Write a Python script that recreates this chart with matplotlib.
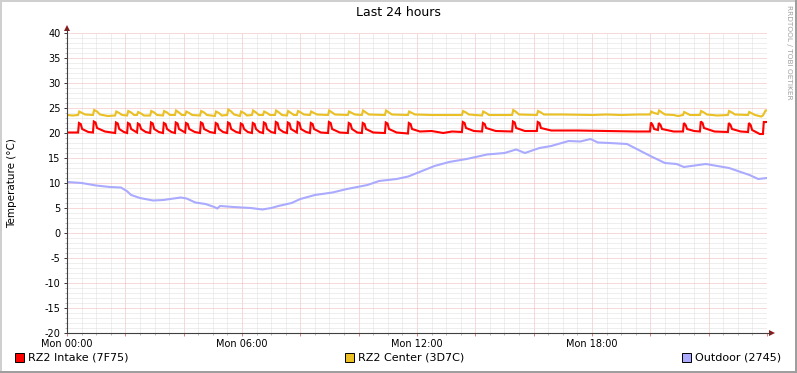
import matplotlib
matplotlib.use("Agg")
import matplotlib.pyplot as plt
from matplotlib.patches import Rectangle, Polygon
from matplotlib.lines import Line2D
from matplotlib.ticker import MultipleLocator

plt.rcParams["axes.unicode_minus"] = False

# Hours since Mon 00:00 and temperatures (deg C)
intake_h = [0.0, 0.38, 0.41, 0.47, 0.52, 0.73,
            0.89, 0.92, 0.98, 1.03, 1.30,
            1.65, 1.68, 1.74, 1.79, 1.95,
            2.06, 2.09, 2.15, 2.20,
            2.40, 2.43, 2.49, 2.54, 2.70,
            2.85, 2.88, 2.94, 2.99, 3.15,
            3.29, 3.32, 3.38, 3.43, 3.58,
            3.70, 3.73, 3.79, 3.84,
            4.05, 4.08, 4.14, 4.19, 4.38,
            4.56, 4.59, 4.65, 4.70, 4.90,
            5.07, 5.10, 5.16, 5.21, 5.35,
            5.49, 5.52, 5.58, 5.63, 5.80,
            5.93, 5.96, 6.02, 6.07, 6.20,
            6.34, 6.37, 6.43, 6.48, 6.60,
            6.72, 6.75, 6.81, 6.86, 7.00,
            7.13, 7.16, 7.22, 7.27, 7.42,
            7.54, 7.57, 7.63, 7.68,
            7.88, 7.91, 7.97, 8.02, 8.20,
            8.33, 8.36, 8.42, 8.47, 8.70,
            8.95, 8.98, 9.04, 9.09, 9.35,
            9.63, 9.66, 9.72, 9.77, 9.95,
            10.11, 10.14, 10.20, 10.25, 10.50,
            10.90, 10.93, 10.99, 11.04, 11.30,
            11.69, 11.72, 11.78, 11.83, 12.10, 12.50, 12.90, 13.20,
            13.54, 13.57, 13.63, 13.68, 13.95,
            14.23, 14.26, 14.32, 14.37, 14.70,
            15.26, 15.29, 15.35, 15.40, 15.70,
            16.11, 16.14, 16.20, 16.25, 16.60, 17.50, 18.50, 19.50,
            19.99, 20.02, 20.08, 20.13,
            20.26, 20.29, 20.35, 20.40, 20.80,
            21.12, 21.15, 21.21, 21.26, 21.50,
            21.70, 21.73, 21.79, 21.84, 22.20,
            22.66, 22.69, 22.75, 22.80, 23.10,
            23.35, 23.38, 23.44, 23.49, 23.75,
            23.86, 23.89, 24.0]
intake_t = [20.1, 20.1, 22.0, 21.8, 20.8, 20.2,
            20.1, 22.3, 22.1, 21.0, 20.3,
            20.0, 22.1, 21.9, 20.8, 20.2,
            20.0, 22.0, 21.8, 20.8,
            20.1, 21.9, 21.7, 20.8, 20.2,
            20.0, 22.1, 21.9, 20.8, 20.2,
            20.0, 22.0, 21.8, 20.8, 20.2,
            20.0, 22.1, 21.9, 20.8,
            20.1, 22.0, 21.8, 20.8, 20.2,
            20.0, 22.1, 21.9, 20.8, 20.2,
            20.0, 22.0, 21.8, 20.8, 20.2,
            20.0, 22.1, 21.9, 20.8, 20.2,
            20.0, 21.9, 21.7, 20.8, 20.2,
            20.0, 22.0, 21.8, 20.8, 20.2,
            20.0, 22.1, 21.9, 20.8, 20.2,
            20.0, 22.2, 22.0, 20.8, 20.2,
            20.0, 22.1, 21.9, 20.8,
            20.1, 22.2, 22.0, 20.8, 20.2,
            20.0, 22.0, 21.8, 20.8, 20.1,
            20.0, 22.2, 22.0, 20.8, 20.1,
            20.0, 22.0, 21.8, 20.8, 20.1,
            20.0, 22.0, 21.8, 20.8, 20.1,
            20.0, 22.1, 21.9, 20.8, 20.1,
            19.9, 22.0, 21.8, 20.8, 20.3, 20.4, 20.0, 20.3,
            20.2, 22.2, 22.0, 21.0, 20.4,
            20.3, 22.0, 21.8, 21.0, 20.4,
            20.3, 22.3, 22.1, 21.0, 20.4,
            20.4, 22.2, 22.0, 21.0, 20.5, 20.5, 20.4, 20.3,
            20.3, 22.1, 21.6, 20.8,
            20.6, 22.0, 21.6, 20.8, 20.3,
            20.3, 22.0, 21.6, 20.8, 20.4,
            20.3, 22.3, 22.0, 21.0, 20.3,
            20.2, 22.0, 21.6, 20.8, 20.3,
            20.2, 22.0, 21.6, 20.6, 19.8,
            19.8, 22.2, 22.2]

center_h = [0.0, 0.20,
            0.38, 0.42, 0.52, 0.62,
            0.89, 0.93, 1.03, 1.13, 1.40,
            1.65, 1.69, 1.79, 1.89,
            2.06, 2.10, 2.20, 2.30,
            2.40, 2.44, 2.54, 2.64,
            2.85, 2.89, 2.99, 3.09,
            3.29, 3.33, 3.43, 3.53,
            3.70, 3.74, 3.84, 3.94,
            4.05, 4.09, 4.19, 4.29,
            4.56, 4.60, 4.70, 4.80,
            5.07, 5.11, 5.21, 5.31,
            5.49, 5.53, 5.63, 5.73,
            5.93, 5.97, 6.07, 6.17,
            6.34, 6.38, 6.48, 6.58,
            6.72, 6.76, 6.86, 6.96,
            7.13, 7.17, 7.27, 7.37,
            7.54, 7.58, 7.68, 7.78,
            7.88, 7.92, 8.02, 8.12,
            8.33, 8.37, 8.47, 8.57,
            8.95, 8.99, 9.09, 9.19,
            9.63, 9.67, 9.77, 9.87,
            10.11, 10.15, 10.25, 10.35,
            10.90, 10.94, 11.04, 11.14,
            11.69, 11.73, 11.83, 11.93, 12.50, 13.00,
            13.54, 13.58, 13.68, 13.78,
            14.23, 14.27, 14.37, 14.47,
            15.26, 15.30, 15.40, 15.50,
            16.11, 16.15, 16.25, 16.35, 17.00, 18.00, 18.50, 19.00, 19.60,
            19.99, 20.03, 20.13,
            20.26, 20.30, 20.40, 20.50, 20.80, 20.95,
            21.12, 21.16, 21.26, 21.36,
            21.70, 21.74, 21.84, 21.94, 22.30,
            22.66, 22.70, 22.80, 22.90,
            23.35, 23.39, 23.49, 23.59, 23.80,
            23.86, 23.95, 24.0]
center_t = [23.6, 23.5,
            23.6, 24.3, 24.0, 23.7,
            23.6, 24.6, 24.3, 23.7, 23.4,
            23.5, 24.3, 24.0, 23.6,
            23.5, 24.4, 24.1, 23.6,
            23.6, 24.2, 23.9, 23.5,
            23.5, 24.4, 24.1, 23.6,
            23.5, 24.4, 24.1, 23.6,
            23.6, 24.5, 24.1, 23.6,
            23.6, 24.3, 24.0, 23.6,
            23.5, 24.4, 24.1, 23.6,
            23.4, 24.3, 24.0, 23.5,
            23.6, 24.7, 24.3, 23.7,
            23.4, 24.3, 24.0, 23.5,
            23.6, 24.5, 24.1, 23.6,
            23.6, 24.3, 24.0, 23.6,
            23.6, 24.5, 24.1, 23.6,
            23.5, 24.4, 24.0, 23.6,
            23.6, 24.4, 24.1, 23.7,
            23.6, 24.3, 24.0, 23.7,
            23.6, 24.5, 24.1, 23.7,
            23.6, 24.3, 24.0, 23.7,
            23.6, 24.5, 24.1, 23.7,
            23.6, 24.5, 24.1, 23.7,
            23.6, 24.3, 24.0, 23.7, 23.6, 23.6,
            23.6, 24.4, 24.1, 23.7,
            23.5, 24.3, 24.0, 23.6,
            23.6, 24.6, 24.2, 23.7,
            23.6, 24.4, 24.1, 23.7, 23.7, 23.6, 23.7, 23.6, 23.7,
            23.7, 24.3, 24.0,
            23.8, 24.5, 24.1, 23.7, 23.6, 23.4,
            23.6, 24.2, 23.9, 23.6,
            23.6, 24.4, 24.1, 23.7, 23.5,
            23.6, 24.4, 24.1, 23.7,
            23.6, 24.2, 23.9, 23.6, 23.3,
            23.5, 24.5, 24.5]

outdoor_h = [0.0, 0.5, 1.0, 1.47, 1.85, 2.05, 2.2, 2.5, 2.95, 3.3, 3.9,
             4.1, 4.4, 4.75, 5.05, 5.15, 5.25, 5.7, 6.3, 6.7, 7.0, 7.25,
             7.7, 8.0, 8.5, 9.1, 9.6, 10.3, 10.7, 11.3, 11.7, 12.0, 12.6,
             13.1, 13.7, 14.4, 15.0, 15.4, 15.7, 16.2, 16.6, 17.2, 17.6,
             17.95, 18.2, 18.6, 19.2, 19.6, 20.0, 20.5, 20.9, 21.15, 21.4,
             21.9, 22.3, 22.7, 23.1, 23.4, 23.7, 24.0]
outdoor_t = [10.2, 10.0, 9.5, 9.2, 9.1, 8.4, 7.6, 7.0, 6.5, 6.6, 7.1,
             6.9, 6.1, 5.8, 5.2, 4.9, 5.4, 5.2, 5.0, 4.7, 5.0, 5.4,
             6.0, 6.8, 7.6, 8.1, 8.8, 9.6, 10.4, 10.8, 11.3, 12.0, 13.4,
             14.2, 14.8, 15.7, 16.0, 16.7, 16.0, 17.0, 17.4, 18.4, 18.3,
             18.8, 18.1, 18.0, 17.8, 16.6, 15.4, 14.0, 13.8, 13.2, 13.4,
             13.8, 13.4, 13.0, 12.2, 11.6, 10.8, 11.0]

x_labels = {0: "Mon 00:00", 6: "Mon 06:00", 12: "Mon 12:00", 18: "Mon 18:00"}
legend_names = ["RZ2 Intake (7F75)", "RZ2 Center (3D7C)", "Outdoor (2745)"]
colors = ["#ff0000", "#eac024", "#aaaaff"]

W, H = 797, 373
fig = plt.figure(figsize=(W / 100, H / 100), dpi=100, facecolor="white")


def fx(px):
    return px / W


def fy(py):
    return 1 - py / H


ax = fig.add_axes([fx(67), fy(333), 700 / W, 300 / H])
ax.set_facecolor("white")
ax.set_xlim(0, 24)
ax.set_ylim(-20, 40)

# grid: minor grey dots, major red dots
ax.xaxis.set_major_locator(MultipleLocator(2))
ax.xaxis.set_minor_locator(MultipleLocator(0.5))
ax.yaxis.set_major_locator(MultipleLocator(5))
ax.yaxis.set_minor_locator(MultipleLocator(1))
ax.grid(which="minor", color="#dedede", linewidth=0.72, dashes=(1, 1))
ax.grid(which="major", color="#f0b4b4", linewidth=0.72, dashes=(1, 1))
ax.set_axisbelow(True)

ax.set_xticks(range(0, 25, 2))
ax.set_xticklabels([x_labels.get(h, "") for h in range(0, 25, 2)])
ax.tick_params(axis="x", which="major", length=2.5, width=0.72, color="#e08080",
               labelsize=7, pad=1.5)
ax.tick_params(axis="x", which="minor", length=1.5, width=0.72, color="#bbbbbb")
ax.tick_params(axis="y", which="major", length=2.5, width=0.72, color="#404040",
               labelsize=7, pad=2)
ax.tick_params(axis="y", which="minor", length=1.5, width=0.72, color="#bbbbbb")

for s in ["top", "right", "left", "bottom"]:
    ax.spines[s].set_visible(False)

ax.plot(intake_h, intake_t, color=colors[0], lw=1.5, solid_joinstyle="miter")
ax.plot(center_h, center_t, color=colors[1], lw=1.5, solid_joinstyle="miter")
ax.plot(outdoor_h, outdoor_t, color=colors[2], lw=1.5, solid_joinstyle="miter")

# axis lines with arrows
axis_col = "#404040"
arrow_col = "#8b1a1a"
fig.add_artist(Line2D([fx(67), fx(770)], [fy(333), fy(333)], color=axis_col, lw=0.8))
fig.add_artist(Line2D([fx(67), fx(67)], [fy(333), fy(29)], color=axis_col, lw=0.8))
fig.add_artist(Polygon([[fx(769), fy(330)], [fx(775), fy(333)], [fx(769), fy(336)]],
                       closed=True, color=arrow_col, lw=0))
fig.add_artist(Polygon([[fx(64), fy(31)], [fx(67), fy(25)], [fx(70), fy(31)]],
                       closed=True, color=arrow_col, lw=0))

# texts
fig.text(0.5, fy(13), "Last 24 hours", ha="center", va="center", fontsize=9)
fig.text(fx(12), fy(183), "Temperature (°C)", rotation=90, ha="center",
         va="center", fontsize=7.5)
fig.text(fx(789), fy(5), "RRDTOOL / TOBI OETIKER", rotation=270, ha="center",
         va="top", fontsize=5.3, color="#a0a0a0")

# legend
legend_x = [15, 345, 682]
for x0, name, c in zip(legend_x, legend_names, colors):
    fig.add_artist(Rectangle((fx(x0), fy(362)), 9 / W, 9 / H, facecolor=c,
                             edgecolor="black", lw=0.7))
    fig.text(fx(x0 + 13), fy(358), name, ha="left", va="center", fontsize=8)

# 3d-ish frame
fig.add_artist(Rectangle((0, fy(2)), 1, 2 / H, color="#cfcfcf", lw=0))
fig.add_artist(Rectangle((0, 0), 2 / W, 1, color="#cfcfcf", lw=0))
fig.add_artist(Rectangle((0, 0), 1, 2 / H, color="#9e9e9e", lw=0))
fig.add_artist(Rectangle((fx(795), 0), 2 / W, 1, color="#9e9e9e", lw=0))

fig.savefig("out.png", dpi=100, facecolor="white")
